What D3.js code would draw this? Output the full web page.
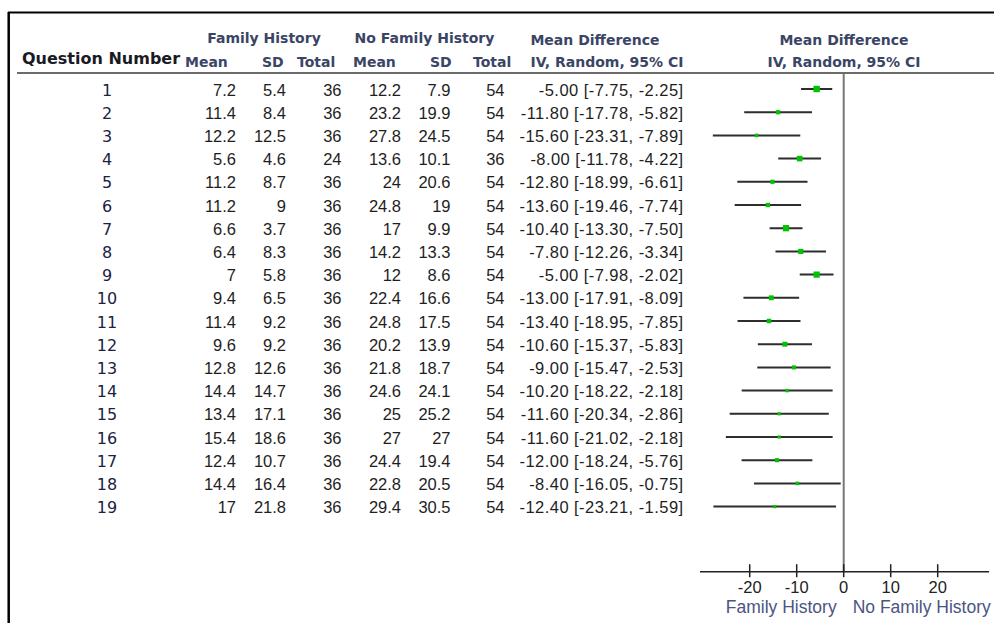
<!DOCTYPE html>
<html>
<head>
<meta charset="utf-8">
<script src="https://cdn.jsdelivr.net/npm/d3@7"></script>
<style>
  html, body { margin: 0; padding: 0; background: #fff; }
  svg { display: block; }
</style>
</head>
<body>
<svg id="chart" width="994" height="623"></svg>
<script>
// Forest plot: family history vs no family history, per questionnaire item
const questions = ["1","2","3","4","5","6","7","8","9","10","11","12","13","14","15","16","17","18","19"];
const fhMean  = [7.2, 11.4, 12.2, 5.6, 11.2, 11.2, 6.6, 6.4, 7, 9.4, 11.4, 9.6, 12.8, 14.4, 13.4, 15.4, 12.4, 14.4, 17];
const fhSD    = [5.4, 8.4, 12.5, 4.6, 8.7, 9, 3.7, 8.3, 5.8, 6.5, 9.2, 9.2, 12.6, 14.7, 17.1, 18.6, 10.7, 16.4, 21.8];
const fhTotal = [36, 36, 36, 24, 36, 36, 36, 36, 36, 36, 36, 36, 36, 36, 36, 36, 36, 36, 36];
const nfhMean  = [12.2, 23.2, 27.8, 13.6, 24, 24.8, 17, 14.2, 12, 22.4, 24.8, 20.2, 21.8, 24.6, 25, 27, 24.4, 22.8, 29.4];
const nfhSD    = [7.9, 19.9, 24.5, 10.1, 20.6, 19, 9.9, 13.3, 8.6, 16.6, 17.5, 13.9, 18.7, 24.1, 25.2, 27, 19.4, 20.5, 30.5];
const nfhTotal = [54, 54, 54, 36, 54, 54, 54, 54, 54, 54, 54, 54, 54, 54, 54, 54, 54, 54, 54];
const meanDiff = [-5.00, -11.80, -15.60, -8.00, -12.80, -13.60, -10.40, -7.80, -5.00, -13.00, -13.40, -10.60, -9.00, -10.20, -11.60, -11.60, -12.00, -8.40, -12.40];
const ciLow    = [-7.75, -17.78, -23.31, -11.78, -18.99, -19.46, -13.30, -12.26, -7.98, -17.91, -18.95, -15.37, -15.47, -18.22, -20.34, -21.02, -18.24, -16.05, -23.21];
const ciHigh   = [-2.25, -5.82, -7.89, -4.22, -6.61, -7.74, -7.50, -3.34, -2.02, -8.09, -7.85, -5.83, -2.53, -2.18, -2.86, -2.18, -5.76, -0.75, -1.59];
const axisTicks = [-20, -10, 0, 10, 20];
const favourLeft = "Family History";
const favourRight = "No Family History";

const rows = questions.map((q, i) => ({
  q, fhMean: fhMean[i], fhSD: fhSD[i], fhTotal: fhTotal[i],
  nfhMean: nfhMean[i], nfhSD: nfhSD[i], nfhTotal: nfhTotal[i],
  md: meanDiff[i], lo: ciLow[i], hi: ciHigh[i]
}));

const svg = d3.select("#chart");
const HEAD_FONT = "'DejaVu Sans', Verdana, sans-serif";
const NUM_FONT = "'Liberation Sans', Arial, sans-serif";
const headColor = "#3a4566";

// Row positions
const y = d3.scalePoint().domain(questions).range([89, 506.6]);

// Scales for the plot panel: marks and the labelled axis underneath
const x = d3.scaleLinear().domain([-30, 30]).range([674.9, 1015.1]);
const xAxisScale = d3.scaleLinear().domain([-30, 30]).range([702.7, 984.7]);

// Outer frame (top and left edges)
svg.append("line").attr("x1", 8).attr("x2", 994).attr("y1", 12.5).attr("y2", 12.5)
  .attr("stroke", "#000").attr("stroke-width", 2);
svg.append("line").attr("x1", 8.7).attr("x2", 8.7).attr("y1", 12).attr("y2", 623)
  .attr("stroke", "#000").attr("stroke-width", 2.5);

// Header rule
svg.append("line").attr("x1", 17).attr("x2", 994).attr("y1", 73).attr("y2", 73)
  .attr("stroke", "#3a3a3a").attr("stroke-width", 1.5);

// Column headers
const head = svg.append("g").attr("font-family", HEAD_FONT).attr("font-weight", "bold");
head.append("text").attr("x", 22).attr("y", 64).attr("font-size", 16).attr("fill", "#1a1a24")
  .text("Question Number");
const headerItems = [
  { t: "Family History", x: 264, y: 43, a: "middle" },
  { t: "No Family History", x: 424.5, y: 43, a: "middle" },
  { t: "Mean Difference", x: 595, y: 45, a: "middle" },
  { t: "Mean Difference", x: 844, y: 45, a: "middle" },
  { t: "Mean", x: 185, y: 67, a: "start" },
  { t: "SD", x: 262, y: 67, a: "start" },
  { t: "Total", x: 297, y: 67, a: "start" },
  { t: "Mean", x: 353, y: 67, a: "start" },
  { t: "SD", x: 430, y: 67, a: "start" },
  { t: "Total", x: 473, y: 67, a: "start" },
  { t: "IV, Random, 95% CI", x: 607, y: 67, a: "middle" },
  { t: "IV, Random, 95% CI", x: 844, y: 67, a: "middle" }
];
head.selectAll("text.h").data(headerItems).join("text").attr("class", "h")
  .attr("x", d => d.x).attr("y", d => d.y).attr("text-anchor", d => d.a)
  .attr("font-size", 14).attr("fill", headColor).text(d => d.t);

// Table body
const fmt2 = v => v.toFixed(2);
const cols = [
  { key: d => String(d.fhMean), x: 236, ls: 0 },
  { key: d => String(d.fhSD), x: 286, ls: 0 },
  { key: d => String(d.fhTotal), x: 341.5, ls: 0 },
  { key: d => String(d.nfhMean), x: 401, ls: 0 },
  { key: d => String(d.nfhSD), x: 450.5, ls: 0 },
  { key: d => String(d.nfhTotal), x: 504.5, ls: 0 },
  { key: d => `${fmt2(d.md)} [${fmt2(d.lo)}, ${fmt2(d.hi)}]`, x: 684, ls: 0.45 }
];

const rowG = svg.append("g").selectAll("g").data(rows).join("g")
  .attr("transform", d => `translate(0,${y(d.q)})`);

rowG.append("text").attr("x", 107).attr("y", 6.5).attr("text-anchor", "middle")
  .attr("font-family", HEAD_FONT).attr("font-size", 16).attr("fill", "#1c2244")
  .text(d => d.q);

cols.forEach(c => {
  rowG.append("text").attr("x", c.x - c.ls).attr("y", 6.5).attr("text-anchor", "end")
    .attr("font-family", NUM_FONT).attr("font-size", 16.5).attr("fill", "#1e1e1e")
    .attr("letter-spacing", c.ls)
    .text(c.key);
});

// Line of no effect
svg.append("line").attr("x1", xAxisScale(0)).attr("x2", xAxisScale(0))
  .attr("y1", 73.5).attr("y2", 572).attr("stroke", "#777").attr("stroke-width", 2);

// Confidence intervals
rowG.append("line")
  .attr("x1", d => x(d.lo)).attr("x2", d => x(d.hi))
  .attr("y1", 0).attr("y2", 0)
  .attr("stroke", "#2d2d2d").attr("stroke-width", 2);

// Point estimates, sized by random-effects weight (inverse variance from the CI)
const tau2 = 4;
const weightOf = d => 1 / (Math.pow((d.hi - d.lo) / 3.92, 2) + tau2);
const side = d3.scaleSqrt().domain([0, d3.max(rows, weightOf)]).range([0, 6.4]);
const sq = d => Math.max(3.2, side(weightOf(d)));
rowG.append("rect")
  .attr("x", d => x(d.md) - sq(d) / 2)
  .attr("y", d => -sq(d) / 2)
  .attr("width", sq)
  .attr("height", sq)
  .attr("fill", "#00c400");

// Bottom axis
const axisY = 571.7;
svg.append("line").attr("x1", 700).attr("x2", 989).attr("y1", axisY).attr("y2", axisY)
  .attr("stroke", "#222").attr("stroke-width", 1.5);
const axisG = svg.append("g").attr("transform", `translate(0,${axisY})`);
axisG.selectAll("line.tick").data(axisTicks).join("line").attr("class", "tick")
  .attr("x1", d => xAxisScale(d)).attr("x2", d => xAxisScale(d))
  .attr("y1", -7.5).attr("y2", 5.5).attr("stroke", "#222").attr("stroke-width", 1.5);
axisG.selectAll("text.tick").data(axisTicks).join("text").attr("class", "tick")
  .attr("x", d => xAxisScale(d)).attr("y", 21).attr("text-anchor", "middle")
  .attr("font-family", NUM_FONT).attr("font-size", 16.5).attr("fill", "#222")
  .text(d => String(d));

svg.append("text").attr("x", xAxisScale(0) - 7).attr("y", 613).attr("text-anchor", "end")
  .attr("font-family", NUM_FONT).attr("font-size", 17.5).attr("fill", "#4a5582")
  .text(favourLeft);
svg.append("text").attr("x", xAxisScale(0) + 9).attr("y", 613).attr("text-anchor", "start")
  .attr("font-family", NUM_FONT).attr("font-size", 17.5).attr("fill", "#4a5582")
  .text(favourRight);
</script>
</body>
</html>
